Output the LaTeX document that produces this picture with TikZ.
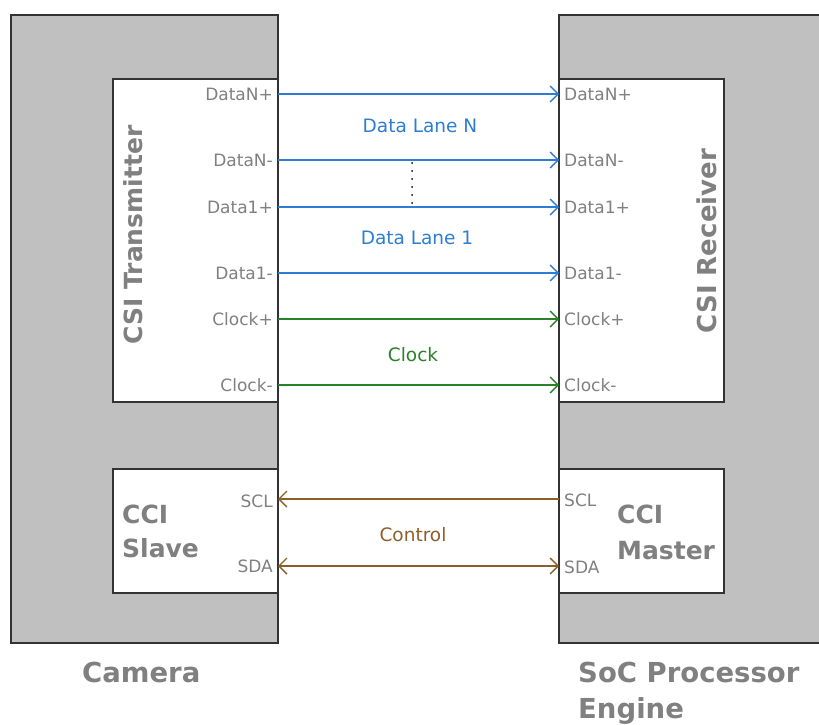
\documentclass[tikz,border=0pt]{standalone}
\usepackage{fontspec}
\setmainfont{DejaVu Sans}
\usetikzlibrary{arrows.meta}

\definecolor{shellgray}{HTML}{C0C0C0}
\definecolor{edgedark}{HTML}{333333}
\definecolor{labelgray}{HTML}{808080}
\definecolor{lanblue}{HTML}{2D7DD2}
\definecolor{clkgreen}{HTML}{288228}
\definecolor{ctlbrown}{HTML}{8C5F28}

\tikzset{
  shell/.style={draw=edgedark, line width=2pt, fill=shellgray, anchor=north west,
    inner sep=0pt, outer sep=0pt, minimum height=628pt},
  block/.style={draw=edgedark, line width=2pt, fill=white, anchor=north west,
    inner sep=0pt, outer sep=0pt, minimum width=165pt},
  pinleft/.style={anchor=east, inner sep=0pt, text=labelgray, font=\fontsize{17}{20}\selectfont},
  pinright/.style={anchor=west, inner sep=0pt, text=labelgray, font=\fontsize{17}{20}\selectfont},
  lanelabel/.style={inner sep=0pt, font=\fontsize{18.5}{22}\selectfont},
  title/.style={inner sep=0pt, text=labelgray, font=\bfseries\fontsize{25}{30}\selectfont},
  bigtitle/.style={inner sep=0pt, text=labelgray, anchor=base west, font=\bfseries\fontsize{27.5}{32}\selectfont},
  barb/.tip={Straight Barb[length=8pt,width=16pt]},
  wire/.style={line width=1.4pt},
}

\begin{document}
\begin{tikzpicture}[x=1pt,y=-1pt]
\useasboundingbox (0,0) rectangle (819,725);

\begin{scope}
  \clip (0,0) rectangle (819,725);
  % outer devices
  \node[shell, minimum width=267pt] (cam) at (11,15) {};
  \node[shell, minimum width=280pt] (soc) at (559,15) {};
  % inner interface blocks
  \node[block, minimum height=323pt] (tx) at (113,79) {};
  \node[block, minimum height=323pt] (rx) at (559,79) {};
  \node[block, minimum height=124pt] (slave) at (113,469) {};
  \node[block, minimum height=124pt] (master) at (559,469) {};
\end{scope}

% block titles
\node[title, rotate=90, anchor=base] (txtitle) at (142,235) {CSI Transmitter};
\node[title, rotate=90, anchor=base, font=\bfseries\fontsize{26}{30}\selectfont] (rxtitle) at (716,241) {CSI Receiver};
\node[title, anchor=base west] (slaveA) at (122,523) {CCI};
\node[title, anchor=base west] (slaveB) at (122,557) {Slave};
\node[title, anchor=base west] (masterA) at (617,523) {CCI};
\node[title, anchor=base west] (masterB) at (617,559) {Master};

% device names
\node[bigtitle] (camname) at (82,682) {Camera};
\node[bigtitle] (socname) at (578,682) {SoC Processor};
\node[bigtitle] (socname2) at (578,718) {Engine};

% transmitter pins
\node[pinleft] (lDNp) at (273,94) {DataN+};
\node[pinleft] (lDNm) at (273,160) {DataN-};
\node[pinleft] (lD1p) at (273,207) {Data1+};
\node[pinleft] (lD1m) at (273,273) {Data1-};
\node[pinleft] (lCp) at (273,319) {Clock+};
\node[pinleft] (lCm) at (273,385) {Clock-};
\node[pinleft] (lSCL) at (273,501) {SCL};
\node[pinleft] (lSDA) at (273,566) {SDA};

% receiver pins
\node[pinright] (rDNp) at (564,94) {DataN+};
\node[pinright] (rDNm) at (564,160) {DataN-};
\node[pinright] (rD1p) at (564,207) {Data1+};
\node[pinright] (rD1m) at (564,273) {Data1-};
\node[pinright] (rCp) at (564,319) {Clock+};
\node[pinright] (rCm) at (564,385) {Clock-};
\node[pinright] (rSCL) at (564,500) {SCL};
\node[pinright] (rSDA) at (564,567) {SDA};

% data lanes
\draw[wire, draw=lanblue, -barb] (tx.east |- 0,94) -- (rx.west |- 0,94);
\draw[wire, draw=lanblue, -barb] (tx.east |- 0,160) -- (rx.west |- 0,160);
\draw[wire, draw=lanblue, -barb] (tx.east |- 0,207) -- (rx.west |- 0,207);
\draw[wire, draw=lanblue, -barb] (tx.east |- 0,273) -- (rx.west |- 0,273);
\node[lanelabel, text=lanblue] (laneN) at (420,126) {Data Lane N};
\node[lanelabel, text=lanblue] (lane1) at (417,238) {Data Lane 1};

% lanes in between
\coordinate (dotstop) at (412,163);
\coordinate (dotsbot) at (412,206);
\draw[line width=2pt, line cap=round, dash pattern=on 0pt off 8pt] (dotstop) -- (dotsbot);

% clock lane
\draw[wire, draw=clkgreen, -barb] (tx.east |- 0,319) -- (rx.west |- 0,319);
\draw[wire, draw=clkgreen, -barb] (tx.east |- 0,385) -- (rx.west |- 0,385);
\node[lanelabel, text=clkgreen] (clklabel) at (413,355) {Clock};

% control interface
\draw[wire, draw=ctlbrown, -barb] (master.west |- 0,499) -- (slave.east |- 0,499);
\draw[wire, draw=ctlbrown, barb-barb] (slave.east |- 0,566) -- (master.west |- 0,566);
\node[lanelabel, text=ctlbrown] (ctllabel) at (413,535) {Control};
\end{tikzpicture}
\end{document}
